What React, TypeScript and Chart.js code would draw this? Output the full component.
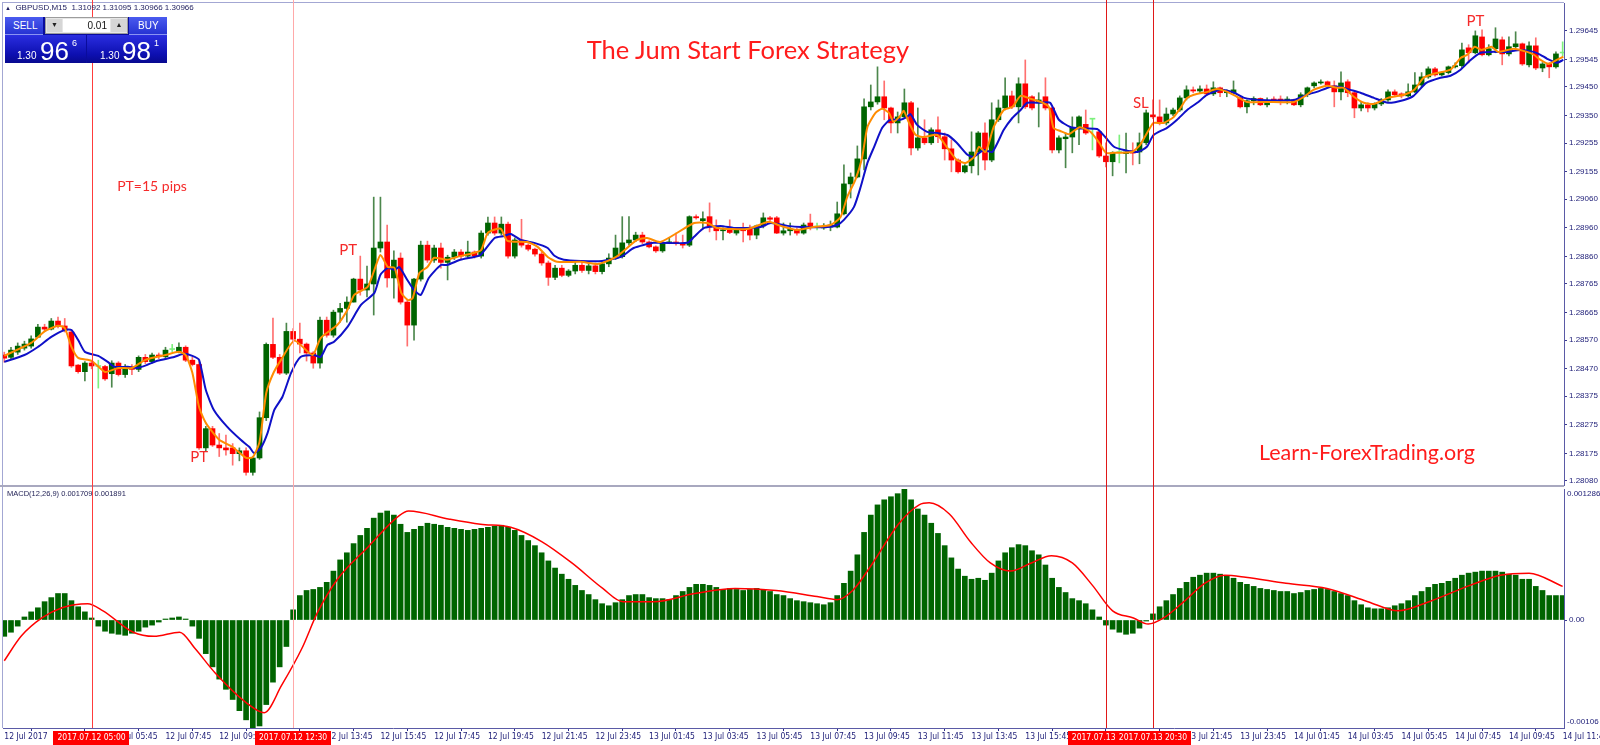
import React, { useEffect, useRef } from 'react';
import { Chart, registerables } from 'chart.js';

Chart.register(...registerables);

// ---------------- data ----------------
// Prices are stored in points (0.00001) above PRICE_BASE.
const PRICE_BASE = 1.28;
const POINT = 0.00001;

const openPts = [
  518, 510, 528, 542, 549, 580, 615, 608, 636, 619,
  598, 483, 460, 490, 478, 478, 453, 490, 450, 475,
  468, 510, 495, 518, 512, 537, 530, 545, 500, 485,
  195, 262, 205, 195, 195, 175, 185, 110, 160, 300,
  555, 510, 455, 600, 573, 556, 525, 490, 639, 587,
  667, 680, 702, 782, 744, 765, 890, 911, 786, 855,
  702, 622, 782, 900, 848, 890, 840, 858, 876, 862,
  876, 862, 942, 977, 942, 973, 862, 918, 900, 886,
  869, 838, 788, 820, 795, 810, 830, 812, 828, 808,
  835, 855, 860, 908, 918, 935, 911, 894, 880, 908,
  911, 905, 900, 999, 985, 999, 963, 950, 956, 942,
  960, 956, 935, 967, 995, 995, 942, 950, 955, 942,
  977, 963, 960, 963, 963, 1009, 1113, 1137, 1200, 1381,
  1398, 1416, 1377, 1325, 1346, 1395, 1238, 1273, 1256, 1301,
  1277, 1235, 1196, 1155, 1176, 1224, 1290, 1196, 1336, 1377,
  1419, 1381, 1461, 1416, 1395, 1416, 1377, 1231, 1270, 1276,
  1308, 1320, 1338, 1294, 1210, 1190, 1222, 1218, 1228, 1224,
  1256, 1353, 1346, 1325, 1356, 1370, 1412, 1440, 1436, 1443,
  1426, 1447, 1430, 1430, 1412, 1381, 1402, 1410, 1388, 1408,
  1408, 1402, 1405, 1388, 1423, 1454, 1464, 1468, 1454, 1433,
  1468, 1430, 1377, 1388, 1377, 1391, 1405, 1433, 1426, 1419,
  1433, 1457, 1485, 1513, 1492, 1500, 1520, 1524, 1586, 1569,
  1624, 1562, 1583, 1614, 1565, 1590, 1600, 1527, 1593, 1516,
  1530, 1520, 1568,
];

const highPts = [
  528, 545, 560, 566, 585, 625, 625, 645, 650, 645,
  606, 485, 495, 498, 500, 482, 498, 495, 485, 485,
  515, 520, 525, 525, 545, 555, 560, 550, 510, 495,
  270, 270, 245, 240, 210, 195, 195, 165, 320, 560,
  646, 520, 629, 610, 629, 560, 530, 650, 650, 674,
  698, 720, 785, 862, 827, 1067, 1067, 970, 880, 873,
  709, 785, 914, 914, 900, 907, 865, 885, 885, 914,
  880, 950, 998, 998, 998, 980, 925, 990, 905, 890,
  875, 845, 830, 830, 815, 840, 840, 835, 838, 845,
  870, 935, 999, 999, 945, 945, 915, 898, 912, 925,
  942, 935, 1002, 1005, 1016, 1047, 988, 960, 988, 960,
  977, 970, 970, 1012, 1000, 1000, 977, 977, 960, 977,
  1008, 977, 975, 984, 1050, 1179, 1151, 1245, 1409, 1457,
  1520, 1471, 1380, 1363, 1443, 1400, 1377, 1336, 1308, 1346,
  1290, 1266, 1200, 1180, 1294, 1295, 1325, 1395, 1405, 1482,
  1436, 1482, 1544, 1420, 1430, 1482, 1380, 1280, 1290, 1346,
  1350, 1370, 1340, 1300, 1256, 1225, 1283, 1290, 1256, 1290,
  1370, 1405, 1405, 1377, 1377, 1419, 1454, 1450, 1454, 1457,
  1468, 1450, 1440, 1471, 1419, 1405, 1416, 1412, 1412, 1416,
  1419, 1416, 1408, 1430, 1450, 1468, 1475, 1471, 1471, 1503,
  1475, 1433, 1398, 1395, 1395, 1410, 1440, 1440, 1430, 1461,
  1500, 1500, 1520, 1518, 1503, 1523, 1534, 1603, 1597, 1645,
  1649, 1597, 1656, 1624, 1624, 1642, 1603, 1607, 1621, 1535,
  1535, 1572, 1607,
];

const lowPts = [
  493, 505, 520, 535, 542, 580, 600, 605, 612, 598,
  475, 455, 428, 470, 403, 430, 406, 445, 440, 450,
  460, 488, 490, 505, 505, 530, 525, 495, 480, 190,
  185, 200, 165, 170, 135, 150, 100, 100, 155, 290,
  505, 450, 450, 560, 525, 497, 472, 472, 580, 580,
  632, 632, 702, 726, 720, 657, 876, 754, 716, 695,
  549, 570, 775, 840, 840, 820, 779, 850, 850, 855,
  855, 855, 935, 935, 935, 855, 855, 893, 880, 862,
  830, 760, 780, 790, 790, 800, 805, 800, 800, 800,
  825, 850, 855, 900, 912, 905, 890, 875, 875, 905,
  900, 890, 895, 990, 960, 946, 918, 918, 940, 935,
  911, 918, 922, 960, 985, 940, 935, 935, 935, 938,
  953, 953, 955, 950, 960, 1005, 1064, 1134, 1162, 1370,
  1390, 1336, 1290, 1290, 1340, 1214, 1230, 1250, 1250, 1256,
  1196, 1155, 1150, 1151, 1151, 1144, 1162, 1190, 1330, 1370,
  1375, 1325, 1375, 1370, 1311, 1370, 1221, 1221, 1169, 1221,
  1249, 1285, 1231, 1205, 1172, 1141, 1186, 1151, 1179, 1183,
  1249, 1340, 1318, 1318, 1350, 1365, 1405, 1430, 1430, 1420,
  1420, 1416, 1416, 1425, 1377, 1360, 1388, 1385, 1381, 1398,
  1388, 1391, 1385, 1381, 1416, 1447, 1460, 1454, 1381, 1405,
  1416, 1343, 1367, 1363, 1370, 1385, 1400, 1416, 1412, 1415,
  1430, 1450, 1480, 1488, 1488, 1495, 1516, 1516, 1534, 1565,
  1558, 1558, 1569, 1527, 1558, 1585, 1525, 1520, 1510, 1503,
  1482, 1515, 1558,
];

const closePts = [
  507, 535, 549, 556, 574, 615, 608, 636, 619, 605,
  480, 460, 490, 480, 478, 435, 490, 450, 475, 468,
  510, 495, 518, 512, 535, 537, 545, 500, 485, 195,
  262, 205, 195, 188, 175, 185, 110, 160, 300, 555,
  510, 455, 600, 573, 556, 525, 490, 639, 587, 667,
  680, 702, 782, 744, 765, 890, 911, 786, 848, 702,
  622, 782, 900, 848, 890, 840, 858, 876, 862, 876,
  862, 942, 977, 942, 973, 862, 918, 900, 886, 869,
  838, 788, 820, 795, 810, 830, 812, 828, 808, 835,
  855, 890, 908, 918, 935, 911, 894, 880, 908, 911,
  905, 900, 999, 995, 992, 963, 950, 953, 944, 953,
  950, 935, 967, 995, 990, 942, 950, 955, 942, 970,
  963, 963, 965, 970, 1009, 1113, 1137, 1200, 1381, 1398,
  1416, 1377, 1325, 1346, 1395, 1238, 1273, 1256, 1301, 1277,
  1235, 1196, 1155, 1176, 1224, 1290, 1196, 1336, 1377, 1419,
  1381, 1461, 1381, 1377, 1405, 1377, 1231, 1273, 1276, 1308,
  1346, 1290, 1338, 1210, 1190, 1221, 1222, 1224, 1220, 1256,
  1360, 1346, 1325, 1356, 1370, 1412, 1440, 1436, 1443, 1426,
  1447, 1430, 1436, 1440, 1381, 1402, 1410, 1388, 1402, 1402,
  1402, 1408, 1388, 1423, 1447, 1464, 1465, 1457, 1433, 1464,
  1430, 1377, 1388, 1377, 1391, 1405, 1433, 1423, 1419, 1433,
  1457, 1485, 1513, 1492, 1500, 1520, 1524, 1579, 1569, 1628,
  1562, 1583, 1617, 1565, 1590, 1600, 1530, 1593, 1516, 1530,
  1520, 1565, 1568,
];

// fast moving average (orange): [bar, points]
const fastMA: [number, number][] = [
  [0, 515], [4, 560], [6, 600], [8, 620], [9, 612], [10, 546], [11, 508], [13, 498], [15, 459], [17, 473],
  [19, 473], [21, 501], [24, 518], [26, 529], [27, 518], [28, 456], [29, 337], [30, 282], [32, 223], [34, 198],
  [36, 160], [37, 163], [38, 216], [39, 386], [40, 452], [41.2, 501], [43.2, 568], [45.9, 518], [47.1, 577], [49.6, 623],
  [51.1, 675], [52.1, 727], [54.1, 755], [55.1, 814], [56, 866], [57.1, 824], [58.1, 821], [59.1, 734], [60.1, 709], [60.8, 716],
  [61.8, 803], [63, 824], [64, 856], [65.9, 849], [67.4, 859], [69.9, 873], [71, 883], [72, 943], [73.9, 957], [74.9, 915],
  [77.9, 911], [79.4, 894], [80.9, 859], [82.3, 842], [85.8, 842], [88.5, 835], [91.1, 859], [94.2, 918], [95.7, 925], [97.7, 911],
  [102.7, 977], [104.7, 977], [106.1, 960], [110.6, 956], [113.8, 981], [115.6, 967], [118, 953], [120.5, 963], [123, 970], [124.5, 998],
  [125.5, 1068], [126.7, 1127], [127.7, 1203], [128.5, 1311], [129.7, 1360], [130.7, 1374], [131.7, 1360], [132.4, 1329], [133.4, 1350], [133.9, 1367],
  [134.7, 1325], [135.7, 1283], [136.9, 1276], [138.9, 1283], [140.4, 1238], [141.8, 1196], [143.1, 1186], [144.4, 1207], [145.1, 1242], [146.1, 1224],
  [147.3, 1311], [148.8, 1370], [150.1, 1381], [151.3, 1419], [152.8, 1409], [154.3, 1398], [155.5, 1381], [156.2, 1308], [157.2, 1297], [158.5, 1286],
  [160.1, 1310], [161.7, 1294], [163, 1256], [164, 1221], [165.2, 1221], [167.9, 1224], [169.1, 1249], [170.4, 1301], [171.1, 1325], [172.6, 1325],
  [174.1, 1346], [175.1, 1377], [176.1, 1412], [177.1, 1423], [179.1, 1433], [180.5, 1443], [182.1, 1433], [183.5, 1416], [185, 1398], [188, 1398],
  [192, 1398], [193.5, 1416], [194.9, 1440], [196.9, 1454], [198.4, 1447], [199.4, 1447], [200.9, 1416], [202.4, 1395], [203.9, 1391], [206, 1412],
  [208.4, 1423], [209.9, 1440], [211.3, 1482], [212.8, 1496], [215.3, 1510], [216.8, 1551], [217.8, 1562], [218.9, 1590], [219.9, 1579], [221.4, 1590],
  [222.4, 1572], [224.7, 1583], [226.7, 1572], [227.7, 1562], [228.7, 1544], [229.9, 1530], [231.1, 1544], [232.1, 1555],
];

// slow moving average (blue): [bar, points]
const slowMA: [number, number][] = [
  [0, 494], [3, 518], [5, 546], [7, 581], [9, 605], [10, 605], [11, 570], [12, 529], [14, 515], [15.4, 494],
  [16.4, 477], [18.4, 477], [19.8, 473], [21.3, 484], [22.8, 498], [25.3, 511], [26.7, 522], [28, 515], [29, 501], [30, 397],
  [31.2, 327], [33.2, 268], [35.2, 223], [36.5, 198], [37.2, 177], [38.2, 195], [39.2, 247], [40.2, 327], [41.4, 372], [42.7, 456],
  [44.1, 511], [46.1, 518], [47.1, 511], [48.1, 553], [49.1, 564], [51.1, 616], [53.1, 692], [55.1, 734], [56, 797], [57.1, 821],
  [58.1, 814], [58.8, 824], [60, 779], [61, 744], [62, 727], [63.2, 786], [65, 831], [65.9, 831], [67.9, 849], [69.9, 859],
  [70.9, 866], [73, 925], [74.4, 932], [75.4, 939], [76.9, 918], [78.9, 908], [80.9, 890], [81.9, 863], [83.3, 849], [85.8, 845],
  [89, 845], [91.8, 859], [93.7, 890], [96.7, 908], [101.7, 908], [102.7, 929], [104.2, 960], [106.6, 967], [108.6, 960], [110.6, 960],
  [112.6, 963], [114.1, 977], [116.6, 967], [118.6, 963], [122.5, 963], [124, 970], [125, 988], [126.5, 1033], [127.5, 1103], [128.5, 1186],
  [129.5, 1242], [130.7, 1308], [131.9, 1336], [133.4, 1336], [134.4, 1346], [134.9, 1356], [135.9, 1318], [137.4, 1294], [138.9, 1290], [140.4, 1283],
  [141.8, 1256], [143.4, 1214], [144.3, 1207], [145.8, 1231], [147.1, 1224], [148.8, 1301], [150.1, 1343], [151.3, 1370], [152.3, 1395], [154.3, 1395],
  [155.7, 1395], [157, 1336], [158.7, 1311], [160.2, 1306], [162.7, 1304], [163.9, 1276], [165.2, 1242], [166.7, 1231], [168.7, 1224], [170.1, 1242],
  [171.1, 1283], [173.1, 1308], [174.6, 1336], [176.1, 1370], [177.6, 1395], [179.1, 1423], [181.1, 1440], [183.1, 1430], [184.6, 1412], [187, 1405],
  [192, 1405], [193.9, 1423], [195.4, 1433], [197.4, 1450], [198.9, 1450], [200.4, 1440], [201.9, 1430], [203.9, 1412], [206, 1395], [208.4, 1405],
  [209.8, 1419], [211.7, 1464], [213.8, 1482], [215.3, 1489], [216.8, 1510], [218.3, 1544], [219.8, 1569], [221.4, 1572], [223.7, 1572], [225.7, 1579],
  [227.7, 1572], [228.7, 1562], [229.7, 1548], [231.1, 1534], [232.1, 1544],
];

// MACD main (histogram), in units of 0.0001
const macdHist = [
  -1.6, -1.2, -0.6, 0.3, 0.8, 1.2, 1.8, 2.2, 2.6, 2.6,
  1.9, 1.3, 0.8, 0.2, -0.6, -1.1, -1.3, -1.4, -1.5, -1.3,
  -1.1, -0.7, -0.5, -0.2, 0.1, 0.2, 0.3, 0.1, -0.6, -1.8,
  -3.3, -4.6, -5.8, -6.8, -7.8, -8.9, -9.8, -10.6, -10.4, -8.3,
  -6.1, -4.6, -2.6, 1.0, 2.4, 2.9, 3.0, 3.2, 3.7, 4.8,
  5.9, 6.6, 7.5, 8.3, 9.0, 10.0, 10.5, 10.7, 10.3, 9.4,
  8.6, 8.9, 9.2, 9.5, 9.4, 9.3, 9.1, 9.0, 8.9, 8.8,
  8.9, 9.0, 9.1, 9.2, 9.3, 9.1, 8.8, 8.3, 7.8, 7.3,
  6.6, 5.8, 5.1, 4.5, 4.0, 3.4, 2.9, 2.5, 2.0, 1.6,
  1.4, 1.7, 2.0, 2.4, 2.5, 2.5, 2.2, 2.1, 2.1, 2.0,
  2.4, 2.8, 3.2, 3.5, 3.5, 3.4, 3.2, 3.0, 3.1, 3.0,
  2.9, 3.0, 3.1, 3.0, 2.8, 2.5, 2.4, 2.1, 1.9, 1.8,
  1.7, 1.6, 1.5, 1.7, 2.4, 3.6, 4.8, 6.4, 8.6, 10.3,
  11.3, 11.8, 12.1, 12.4, 12.86, 11.8, 10.9, 10.3, 9.5, 8.5,
  7.3, 6.1, 5.0, 4.3, 4.0, 4.1, 3.9, 4.6, 5.8, 6.6,
  7.1, 7.4, 7.3, 6.8, 6.4, 5.4, 4.1, 3.2, 2.7, 2.1,
  1.9, 1.6, 1.0, 0.3, -0.5, -0.9, -1.2, -1.4, -1.3, -0.8,
  -0.1, 0.6, 1.3, 1.9, 2.5, 3.1, 3.7, 4.2, 4.4, 4.6,
  4.6, 4.5, 4.3, 4.1, 3.7, 3.5, 3.3, 3.1, 3.0, 2.9,
  2.8, 2.8, 2.6, 2.7, 2.9, 3.0, 3.1, 3.0, 2.8, 2.6,
  2.4, 1.9, 1.5, 1.2, 1.1, 1.1, 1.2, 1.4, 1.6, 1.9,
  2.4, 2.8, 3.2, 3.5, 3.6, 3.8, 4.1, 4.4, 4.6, 4.7,
  4.8, 4.8, 4.8, 4.7, 4.5, 4.4, 4.0, 4.0, 3.3, 2.9,
  2.4, 2.4, 2.4,
];

// MACD signal line: [bar, value in 0.0001]
const macdSignal: [number, number][] = [
  [0, -4.0], [2.5, -1.6], [5.6, 0.2], [8.6, 1.2], [12.4, 1.6], [14.7, 0.9], [19.2, -1.2], [22.3, -1.6], [26.1, -1.2], [28.4, -2.8],
  [31.4, -5.2], [36, -8.1], [38.7, -9.1], [41.3, -6.4], [44.3, -2.8], [46.6, 0.7], [49.6, 4.0], [54.2, 7.2], [58.7, 10.2], [60.2, 10.7],
  [66.3, 9.9], [70.9, 9.4], [75.4, 9.1], [80, 7.7], [84.5, 5.6], [89.1, 3.1], [92.1, 1.8], [96.7, 1.8], [102.8, 2.6], [108.8, 3.1],
  [114.9, 2.9], [121, 2.3], [124, 2.0], [126.3, 2.9], [129.3, 5.6], [133.1, 9.4], [136.2, 11.3], [137.7, 11.5], [140.7, 10.4], [143.8, 7.7],
  [146.8, 5.6], [149.8, 4.8], [152.9, 5.6], [155.9, 6.3], [159, 5.6], [162, 3.4], [165, 0.9], [168.1, 0.2], [170.3, -0.4], [172.6, 0.2],
  [175.6, 1.8], [178.7, 3.6], [181.7, 4.4], [184.8, 4.2], [190.8, 3.6], [196.9, 3.1], [203, 1.8], [207.5, 0.9], [212.1, 1.8], [218.2, 3.4],
  [222.7, 4.4], [227, 4.6], [232, 3.3],
];

const priceTicks = [
  1.29645, 1.29545, 1.2945, 1.2935, 1.29255, 1.29155, 1.2906, 1.2896, 1.2886,
  1.28765, 1.28665, 1.2857, 1.2847, 1.28375, 1.28275, 1.28175, 1.2808,
];

const timeTickBars = [0, 8, 16, 24, 32, 40, 48, 56, 64, 72, 80, 88, 96, 104, 112, 120, 128, 136, 144, 152, 160, 168, 176, 184, 192, 200, 208, 216, 224, 232];
const timeTickLabels = [
  '12 Jul 2017', '12 Jul 03:45', '12 Jul 05:45', '12 Jul 07:45', '12 Jul 09:45', '12 Jul 11:45', '12 Jul 13:45', '12 Jul 15:45',
  '12 Jul 17:45', '12 Jul 19:45', '12 Jul 21:45', '12 Jul 23:45', '13 Jul 01:45', '13 Jul 03:45', '13 Jul 05:45', '13 Jul 07:45',
  '13 Jul 09:45', '13 Jul 11:45', '13 Jul 13:45', '13 Jul 15:45', '13 Jul 17:45', '13 Jul 19:45', '13 Jul 21:45', '13 Jul 23:45',
  '14 Jul 01:45', '14 Jul 03:45', '14 Jul 05:45', '14 Jul 07:45', '14 Jul 09:45', '14 Jul 11:45',
];

const markerBars = [13, 43, 164, 171];
const markerLabels = ['2017.07.12 05:00', '2017.07.12 12:30', '2017.07.13 18:45', '2017.07.13 20:30'];
const markerColors = ['#ff3c3c', '#ffa9a9', '#e01818', '#e01818'];

const noteTexts = ['PT=15 pips', 'PT', 'PT', 'SL', 'PT'];
const noteBars = [22, 29, 51.2, 169.2, 219];
const notePrices = [1.29103, 1.28164, 1.28883, 1.29395, 1.2968];
const noteSizes = [14, 15, 15, 15, 15];

// ---------------- layout ----------------
const W = 1600;
const PRICE_H = 487;
const MACD_H = 258;
const X_MIN = -0.19;
const X_MAX = 232.2;
const AXIS_W = 36;
const FONT_AXIS = '"Liberation Sans", Arial, sans-serif';
const FONT_NARROW = '"Liberation Sans Narrow", "DejaVu Sans Condensed", "Liberation Sans", sans-serif';
const FONT_NOTE = 'Lato, "Open Sans", sans-serif';

const toPrice = (p: number) => +(PRICE_BASE + p * POINT).toFixed(5);

function drawMarkers(ctx: CanvasRenderingContext2D, xs: any, y0: number, y1: number) {
  markerBars.forEach((b, k) => {
    const x = Math.round(xs.getPixelForValue(b)) + 0.5;
    ctx.strokeStyle = markerColors[k];
    ctx.lineWidth = 1;
    ctx.beginPath();
    ctx.moveTo(x, y0);
    ctx.lineTo(x, y1);
    ctx.stroke();
  });
}

const pricePlugin = {
  id: 'priceDecor',
  afterDraw(chart: any) {
    const { ctx, chartArea: a, scales } = chart;
    const xs = scales.x;
    const ys = scales.y;
    ctx.save();
    ctx.fillStyle = '#a3a7d3';
    ctx.fillRect(2, 2, 1, PRICE_H - 2);
    ctx.fillRect(2, 2, a.right - 2, 1);
    ctx.fillStyle = '#a8a8bf';
    ctx.fillRect(0, a.bottom, a.right, 2);
    drawMarkers(ctx, xs, 0, PRICE_H);
    ctx.fillStyle = '#f52a2a';
    ctx.textAlign = 'center';
    ctx.textBaseline = 'middle';
    noteTexts.forEach((t, k) => {
      ctx.font = `${noteSizes[k]}px ${FONT_NOTE}`;
      ctx.fillText(t, xs.getPixelForValue(noteBars[k]), ys.getPixelForValue(notePrices[k]));
    });
    ctx.restore();
  },
};

const macdPlugin = {
  id: 'macdDecor',
  afterDraw(chart: any) {
    const { ctx, chartArea: a, scales } = chart;
    const xs = scales.x;
    ctx.save();
    ctx.fillStyle = '#a3a7d3';
    ctx.fillRect(2, 0, 1, a.bottom);
    drawMarkers(ctx, xs, 0, a.bottom);
    ctx.fillStyle = '#1c1c52';
    ctx.font = `7.5px ${FONT_AXIS}`;
    ctx.textAlign = 'left';
    ctx.textBaseline = 'middle';
    ctx.fillText('MACD(12,26,9) 0.001709 0.001891', 7, 7);
    ctx.fillStyle = '#22227a';
    ctx.font = `8px ${FONT_AXIS}`;
    ctx.fillText('0.001286', a.right + 3, a.top + 5);
    ctx.fillText('-0.00106', a.right + 3, a.bottom - 6);
    // red time labels of the vertical lines
    ctx.font = `8.5px ${FONT_NARROW}`;
    markerBars.forEach((b, k) => {
      const x = xs.getPixelForValue(b);
      const tw = ctx.measureText(markerLabels[k]).width + 8;
      ctx.fillStyle = '#ff0000';
      ctx.fillRect(Math.round(x - tw / 2), a.bottom + 3, Math.round(tw), MACD_H - a.bottom - 3);
      ctx.fillStyle = '#ffffff';
      ctx.textAlign = 'center';
      ctx.fillText(markerLabels[k], x, a.bottom + 9.5);
    });
    ctx.restore();
  },
};

function PriceChart() {
  const ref = useRef<HTMLCanvasElement>(null);
  useEffect(() => {
    const bars = closePts.map((_, i) => i);
    const bodyColor = bars.map((i) => (closePts[i] > openPts[i] ? '#006400' : closePts[i] < openPts[i] ? '#ff0000' : '#7cf07c'));
    const wickColor = bars.map((i) => (closePts[i] > openPts[i] ? '#4c874c' : closePts[i] < openPts[i] ? '#ff7070' : '#7cf07c'));
    const chart = new Chart(ref.current as HTMLCanvasElement, {
      type: 'bar',
      data: {
        datasets: [
          {
            type: 'line',
            data: fastMA.map(([b, p]) => ({ x: b, y: toPrice(p) })),
            borderColor: '#ff8c00',
            borderWidth: 2,
            pointRadius: 0,
            tension: 0.2,
            order: 0,
          } as any,
          {
            type: 'line',
            data: slowMA.map(([b, p]) => ({ x: b, y: toPrice(p) })),
            borderColor: '#0f10c8',
            borderWidth: 2,
            pointRadius: 0,
            tension: 0.2,
            order: 1,
          } as any,
          {
            type: 'bar',
            data: bars.map((i) => ({ x: i, y: [toPrice(openPts[i]), toPrice(closePts[i])] })),
            backgroundColor: bodyColor,
            barThickness: 5,
            minBarLength: 1,
            grouped: false,
            order: 2,
          } as any,
          {
            type: 'bar',
            data: bars.map((i) => ({ x: i, y: [toPrice(lowPts[i]), toPrice(highPts[i])] })),
            backgroundColor: wickColor,
            barThickness: 1,
            grouped: false,
            order: 3,
          } as any,
        ],
      },
      options: {
        responsive: false,
        animation: false,
        events: [],
        layout: { padding: { left: 3, top: 3, right: 0, bottom: 2 }, autoPadding: false },
        plugins: { legend: { display: false }, tooltip: { enabled: false } },
        scales: {
          x: { type: 'linear', min: X_MIN, max: X_MAX, offset: false, display: false },
          y: {
            type: 'linear',
            position: 'right',
            min: 1.28066,
            max: 1.29742,
            afterBuildTicks: (s: any) => {
              s.ticks = priceTicks.map((v) => ({ value: v }));
            },
            afterFit: (s: any) => {
              s.width = AXIS_W;
              s.paddingTop = 0;
              s.paddingBottom = 0;
            },
            grid: { drawOnChartArea: false, drawTicks: true, tickLength: 3, tickColor: '#3b3b8f' },
            border: { display: true, color: '#5a5aa6' },
            ticks: {
              padding: 2,
              autoSkip: false,
              color: '#22227a',
              font: { family: FONT_AXIS, size: 8 },
              callback: (v: any) => Number(v).toFixed(5),
            },
          },
        },
      } as any,
      plugins: [pricePlugin],
    });
    return () => chart.destroy();
  }, []);
  return <canvas ref={ref} width={W} height={PRICE_H} style={{ position: 'absolute', left: 0, top: 0, width: W, height: PRICE_H }} />;
}

function MacdChart() {
  const ref = useRef<HTMLCanvasElement>(null);
  useEffect(() => {
    const chart = new Chart(ref.current as HTMLCanvasElement, {
      type: 'bar',
      data: {
        datasets: [
          {
            type: 'line',
            data: macdSignal.map(([b, v]) => ({ x: b, y: v * 0.0001 })),
            borderColor: '#ff0000',
            borderWidth: 1.5,
            pointRadius: 0,
            cubicInterpolationMode: 'monotone',
            order: 0,
          } as any,
          {
            type: 'bar',
            data: macdHist.map((v, i) => ({ x: i, y: v * 0.0001 })),
            backgroundColor: '#006400',
            barThickness: 5,
            grouped: false,
            order: 1,
          } as any,
        ],
      },
      options: {
        responsive: false,
        animation: false,
        events: [],
        layout: { padding: { left: 3, top: 2, right: 0, bottom: 0 }, autoPadding: false },
        plugins: { legend: { display: false }, tooltip: { enabled: false } },
        scales: {
          x: {
            type: 'linear',
            min: X_MIN,
            max: X_MAX,
            offset: false,
            position: 'bottom',
            afterBuildTicks: (s: any) => {
              s.ticks = timeTickBars.map((v) => ({ value: v }));
            },
            afterFit: (s: any) => {
              s.height = 17;
              s.paddingLeft = 0;
              s.paddingRight = 0;
            },
            grid: { drawOnChartArea: false, drawTicks: true, tickLength: 3, tickColor: '#2a2a8a' },
            border: { display: true, color: '#5a5aa6' },
            ticks: {
              align: 'start',
              maxRotation: 0,
              autoSkip: false,
              padding: 1,
              color: '#22227a',
              font: { family: FONT_NARROW, size: 8.5 },
              callback: (_v: any, idx: number) => timeTickLabels[idx],
            },
          },
          y: {
            type: 'linear',
            position: 'right',
            min: -0.00106,
            max: 0.001286,
            afterBuildTicks: (s: any) => {
              s.ticks = [{ value: 0 }];
            },
            afterFit: (s: any) => {
              s.width = AXIS_W;
              s.paddingTop = 0;
              s.paddingBottom = 0;
            },
            grid: { drawOnChartArea: false, drawTicks: true, tickLength: 3, tickColor: '#3b3b8f' },
            border: { display: true, color: '#5a5aa6' },
            ticks: {
              padding: 2,
              color: '#22227a',
              font: { family: FONT_AXIS, size: 8 },
              callback: () => '0.00',
            },
          },
        },
      } as any,
      plugins: [macdPlugin],
    });
    return () => chart.destroy();
  }, []);
  return <canvas ref={ref} width={W} height={MACD_H} style={{ position: 'absolute', left: 0, top: PRICE_H, width: W, height: MACD_H }} />;
}

const abs = (l: number, t: number, w: number, h: number): React.CSSProperties => ({ position: 'absolute', left: l, top: t, width: w, height: h });

function TradePanel() {
  const btn = 'linear-gradient(#4a5bef, #2633d3)';
  const priceBg = 'linear-gradient(#2a2ee0, #0d0fb0 70%, #08098f)';
  const white: React.CSSProperties = { color: '#fff', fontFamily: FONT_AXIS, position: 'absolute', lineHeight: 1 };
  return (
    <div style={{ ...abs(5, 17, 162, 46), background: '#0a0c9c' }}>
      <div style={{ ...abs(0, 0, 38, 18), background: btn, borderBottom: '1px solid #8a93f3', boxSizing: 'border-box' }}>
        <span style={{ ...white, left: 8, top: 4, fontSize: 10 }}>SELL</span>
      </div>
      <div style={{ ...abs(40, 0, 83, 17), background: '#e6e6e6', border: '1px solid #9c9c9c', boxSizing: 'border-box' }}>
        <div style={{ ...abs(1, 1, 15, 13), background: '#d6d6d6', fontSize: 7, textAlign: 'center', lineHeight: '13px', color: '#222' }}>▼</div>
        <div style={{ ...abs(17, 1, 47, 13), background: '#fff', fontFamily: FONT_AXIS, fontSize: 10, textAlign: 'right', lineHeight: '13px', color: '#111', paddingRight: 3, boxSizing: 'border-box' }}>0.01</div>
        <div style={{ ...abs(65, 1, 16, 13), background: '#d6d6d6', fontSize: 7, textAlign: 'center', lineHeight: '13px', color: '#222' }}>▲</div>
      </div>
      <div style={{ ...abs(124, 0, 38, 18), background: btn, borderBottom: '1px solid #8a93f3', boxSizing: 'border-box' }}>
        <span style={{ ...white, left: 9, top: 4, fontSize: 10 }}>BUY</span>
      </div>
      <div style={{ ...abs(0, 18, 81, 28), background: priceBg }}>
        <span style={{ ...white, left: 12, top: 16, fontSize: 10 }}>1.30</span>
        <span style={{ ...white, left: 35, top: 3, fontSize: 26 }}>96</span>
        <span style={{ ...white, left: 67, top: 4, fontSize: 9 }}>6</span>
      </div>
      <div style={{ ...abs(82, 18, 80, 28), background: priceBg }}>
        <span style={{ ...white, left: 13, top: 16, fontSize: 10 }}>1.30</span>
        <span style={{ ...white, left: 35, top: 3, fontSize: 26 }}>98</span>
        <span style={{ ...white, left: 67, top: 4, fontSize: 9 }}>1</span>
      </div>
    </div>
  );
}

export default function App() {
  return (
    <div style={{ position: 'absolute', left: 0, top: 0, width: W, height: PRICE_H + MACD_H, background: '#ffffff', overflow: 'hidden' }}>
      <PriceChart />
      <MacdChart />
      <div style={{ position: 'absolute', left: 5, top: 2, fontFamily: FONT_AXIS, fontSize: 8, lineHeight: '12px', color: '#1b1b5c', whiteSpace: 'pre' }}>
        <span style={{ fontSize: 6 }}>▲</span>{'  GBPUSD,M15  1.31092 1.31095 1.30966 1.30966'}
      </div>
      <TradePanel />
      <div style={{ position: 'absolute', left: 748, top: 49, transform: 'translate(-50%, -50%)', fontFamily: FONT_NOTE, fontSize: 25.5, color: '#ff1c1c', whiteSpace: 'nowrap' }}>
        The Jum Start Forex Strategy
      </div>
      <div style={{ position: 'absolute', left: 1367, top: 452, transform: 'translate(-50%, -50%)', fontFamily: FONT_NOTE, fontSize: 21.5, color: '#ff1c1c', whiteSpace: 'nowrap' }}>
        Learn-ForexTrading.org
      </div>
    </div>
  );
}
